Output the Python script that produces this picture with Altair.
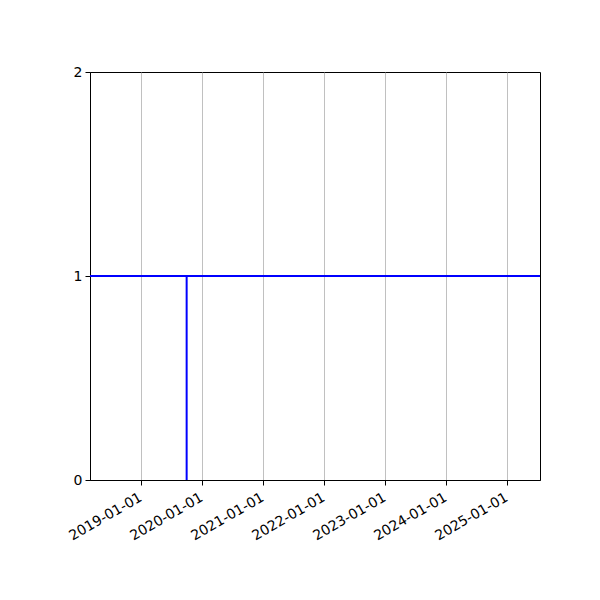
import altair as alt
import pandas as pd

# data
h_level = [1]
v_dates = ["2019-10-01"]
v_low = [0]
v_high = [1]
tick_years = [2019, 2020, 2021, 2022, 2023, 2024, 2025]
y_ticks = [0, 1, 2]

h_df = pd.DataFrame({"y": h_level})
v_df = pd.DataFrame({"date": v_dates, "y": v_low, "y2": v_high})

x_scale = alt.Scale(type="utc", domain=[alt.DateTime(year=2018, month=3, date=1, utc=True),
                                        alt.DateTime(year=2025, month=7, date=18, utc=True)])
y_scale = alt.Scale(domain=[0, 2], nice=False)

x_axis = alt.Axis(
    title=None,
    values=[alt.DateTime(year=y, month=1, date=1, utc=True) for y in tick_years],
    format="%Y-%m-%d",
    labelAngle=330,
    labelAlign="right",
    labelBaseline="top",
    labelOverlap=False,
    labelOffset=-4,
    grid=True,
    gridColor="#b0b0b0",
    gridWidth=0.8,
    tickColor="black",
    tickSize=5,
    domainColor="black",
    labelColor="black",
    labelFont="DejaVu Sans",
    labelFontSize=14,
    labelPadding=5,
)
y_axis = alt.Axis(
    title=None,
    values=y_ticks,
    format=".0f",
    labelOverlap=False,
    grid=False,
    tickColor="black",
    tickSize=5,
    domainColor="black",
    labelColor="black",
    labelFont="DejaVu Sans",
    labelFontSize=14,
    labelPadding=3,
)

vline = alt.Chart(v_df).mark_rule(color="#0000ff", strokeWidth=2).encode(
    x=alt.X("date:T", scale=x_scale, axis=x_axis),
    y=alt.Y("y:Q", scale=y_scale, axis=y_axis),
    y2="y2:Q",
)
hline = alt.Chart(h_df).mark_rule(color="#0000ff", strokeWidth=2).encode(
    y=alt.Y("y:Q", scale=y_scale, axis=y_axis),
)

chart = alt.layer(vline, hline).properties(
    width=450,
    height=408,
    padding={"left": 82, "top": 64, "right": 52, "bottom": 104},
    autosize=alt.AutoSizeParams(type="none"),
    background="white",
).configure_view(stroke="black", strokeWidth=1)

chart.save("out.html", embed_options={"renderer": "svg", "actions": False})
